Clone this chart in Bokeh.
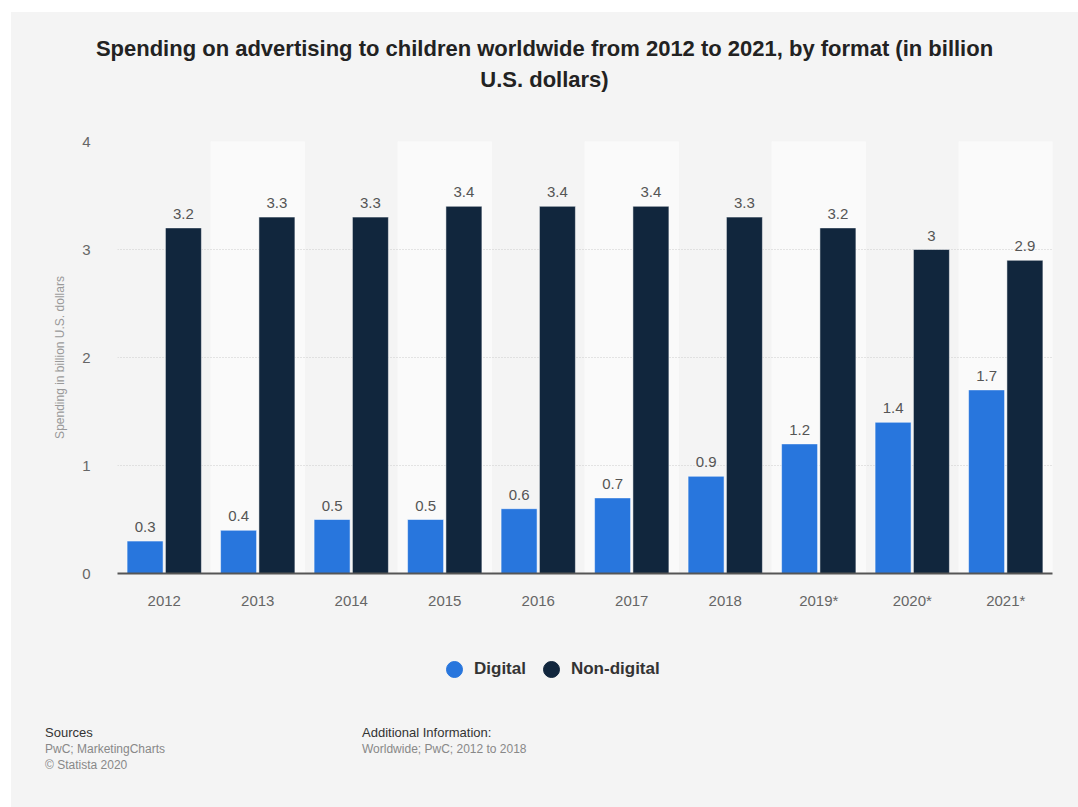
from bokeh.plotting import figure
from bokeh.models import ColumnDataSource, Div, Spacer, Legend, LegendItem, FixedTicker
from bokeh.layouts import column, row
from bokeh.transform import dodge
from bokeh.embed import file_html
from bokeh.resources import INLINE

years = ["2012", "2013", "2014", "2015", "2016", "2017", "2018", "2019*", "2020*", "2021*"]
digital = [0.3, 0.4, 0.5, 0.5, 0.6, 0.7, 0.9, 1.2, 1.4, 1.7]
non_digital = [3.2, 3.3, 3.3, 3.4, 3.4, 3.4, 3.3, 3.2, 3.0, 2.9]
y_ticks = [0, 1, 2, 3, 4]
series_names = ["Digital", "Non-digital"]

title_text = "Spending on advertising to children worldwide from 2012 to 2021, by format (in billion<br>U.S. dollars)"
y_label = "Spending in billion U.S. dollars"

BG = "#f4f4f4"
C_DIG = "#2876dd"
C_NON = "#11263d"
FONT = "Liberation Sans"

src = ColumnDataSource(dict(
    year=years,
    digital=digital,
    non_digital=non_digital,
    dig_lbl=[f"{v:g}" for v in digital],
    non_lbl=[f"{v:g}" for v in non_digital],
))
band_src = ColumnDataSource(dict(year=years[1::2], top=[y_ticks[-1]] * len(years[1::2])))

p = figure(x_range=years, y_range=(0, 4), width=1067, height=518,
           output_backend="svg", toolbar_location=None,
           min_border_left=106, min_border_right=26, min_border_top=19, min_border_bottom=67,
           background_fill_color=BG, border_fill_color=BG, outline_line_color=None, margin=0)

p.vbar(x="year", top="top", bottom=0, width=1.0, source=band_src, color="#fafafa", level="image")

p.vbar(x=dodge("year", -0.205, range=p.x_range), top="digital", width=0.385, source=src,
       fill_color=C_DIG, line_color="#ffffff", line_alpha=0.5, line_width=1)
p.vbar(x=dodge("year", 0.205, range=p.x_range), top="non_digital", width=0.385, source=src,
       fill_color=C_NON, line_color="#ffffff", line_alpha=0.5, line_width=1)

p.text(x=dodge("year", -0.205, range=p.x_range), y="digital", text="dig_lbl", source=src,
       text_align="center", text_baseline="bottom", y_offset=-9,
       text_font_size="15px", text_color="#555555", text_font={"value": FONT})
p.text(x=dodge("year", 0.205, range=p.x_range), y="non_digital", text="non_lbl", source=src,
       text_align="center", text_baseline="bottom", y_offset=-9,
       text_font_size="15px", text_color="#555555", text_font={"value": FONT})

# axes
p.xaxis.axis_line_color = "#555555"
p.xaxis.axis_line_width = 2
p.xaxis.major_tick_line_color = None
p.xaxis.minor_tick_line_color = None
p.xaxis.major_label_text_font_size = "15px"
p.xaxis.major_label_text_color = "#666666"
p.xaxis.major_label_text_font = FONT
p.xaxis.major_label_standoff = 12

p.yaxis.ticker = FixedTicker(ticks=y_ticks)
p.yaxis.axis_line_color = None
p.yaxis.major_tick_line_color = None
p.yaxis.minor_tick_line_color = None
p.yaxis.major_label_text_font_size = "15px"
p.yaxis.major_label_text_color = "#666666"
p.yaxis.major_label_text_font = FONT
p.yaxis.major_label_standoff = 21
p.yaxis.axis_label = y_label
p.yaxis.axis_label_text_font_size = "12px"
p.yaxis.axis_label_text_color = "#999999"
p.yaxis.axis_label_text_font = FONT
p.yaxis.axis_label_text_font_style = "normal"
p.yaxis.axis_label_standoff = 12

p.xgrid.grid_line_color = None
p.ygrid.grid_line_color = "#cccccc"
p.ygrid.grid_line_dash = "1 2"
p.ygrid.grid_line_width = 1

# legend strip (legend-only renderers: their points are NaN and never drawn)
lg = figure(width=1067, height=60, x_range=(0, 1), y_range=(0, 1),
            output_backend="svg", toolbar_location=None,
            min_border=0, min_border_left=0, min_border_right=0, min_border_top=0, min_border_bottom=0,
            background_fill_color=BG, border_fill_color=BG,
            outline_line_color=BG, outline_line_width=3, margin=0)
lg.axis.visible = False
lg.grid.visible = False
nan = float("nan")
r_d = lg.scatter(x=[nan], y=[nan], marker="circle", size=16, fill_color=C_DIG, line_color=C_DIG)
r_n = lg.scatter(x=[nan], y=[nan], marker="circle", size=16, fill_color=C_NON, line_color=C_NON)
legend = Legend(items=[LegendItem(label=series_names[0], renderers=[r_d]),
                       LegendItem(label=series_names[1], renderers=[r_n])],
                orientation="horizontal", location=(317, 11),
                label_text_font_size="17px", label_text_font_style="bold",
                label_text_color="#333333", label_text_font=FONT,
                glyph_width=40, glyph_height=40, label_standoff=0, spacing=5,
                border_line_color=None, background_fill_alpha=0)
lg.add_layout(legend, "center")

title_div = Div(
    text=f'<div style="width:1067px;height:110px;box-sizing:border-box;padding-top:21px;'
         f'text-align:center;font-family:{FONT},Arial,sans-serif;font-weight:bold;font-size:22px;'
         f'line-height:31px;color:#222;">{title_text}</div>',
    width=1067, height=110, margin=0, styles={"background-color": BG})

footer_div = Div(
    text=f'<div style="position:relative;width:1067px;height:107px;font-family:{FONT},Arial,sans-serif;">'
         '<div style="position:absolute;left:34px;top:24px;font-size:13px;color:#333;">Sources</div>'
         '<div style="position:absolute;left:34px;top:41px;font-size:12px;color:#888;line-height:16px;">'
         'PwC; MarketingCharts<br>&copy; Statista 2020</div>'
         '<div style="position:absolute;left:351px;top:24px;font-size:13px;color:#333;">Additional Information:</div>'
         '<div style="position:absolute;left:351px;top:41px;font-size:12px;color:#888;line-height:16px;">'
         'Worldwide; PwC; 2012 to 2018</div>'
         '</div>',
    width=1067, height=107, margin=0, styles={"background-color": BG})

panel = column(title_div, p, lg, footer_div, spacing=0, margin=0,
               styles={"background-color": BG})

layout = row(Spacer(width=11, height=807, margin=0),
             column(Spacer(width=1067, height=12, margin=0), panel, spacing=0, margin=0),
             spacing=0, margin=0)

open("out.html", "w").write(file_html(layout, INLINE))
